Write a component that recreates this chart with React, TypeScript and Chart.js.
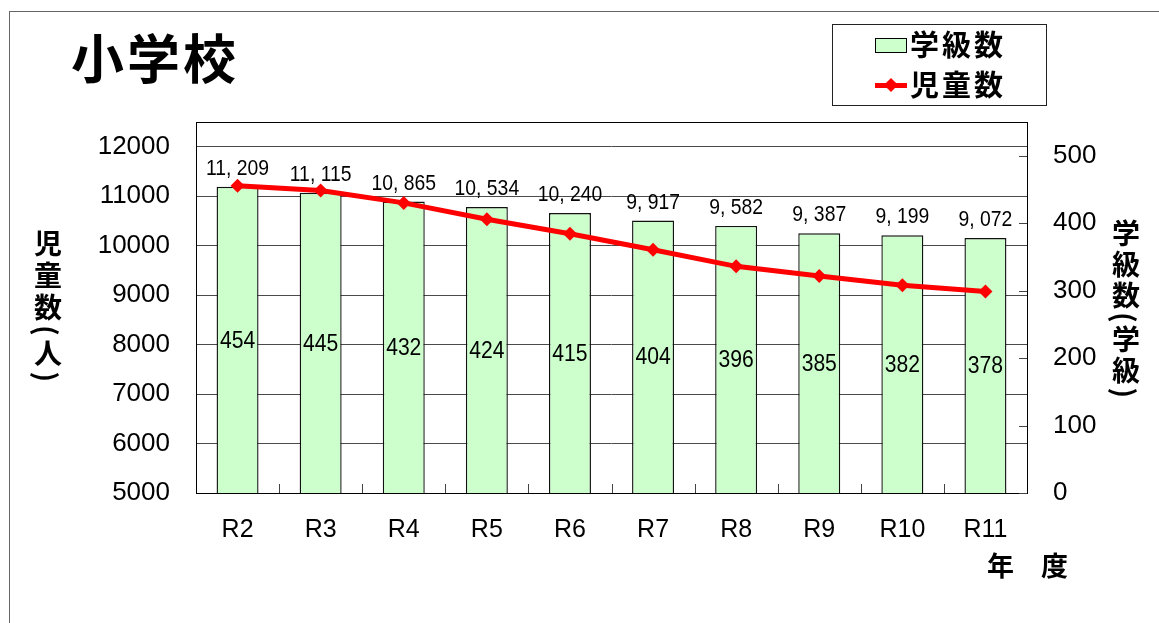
import React, { useEffect, useRef } from "react";
import { Chart, registerables } from "chart.js";

Chart.register(...registerables);

const years = ["R2", "R3", "R4", "R5", "R6", "R7", "R8", "R9", "R10", "R11"];
const classCounts = [454, 445, 432, 424, 415, 404, 396, 385, 382, 378];
const studentCounts = [11209, 11115, 10865, 10534, 10240, 9917, 9582, 9387, 9199, 9072];
const leftTicks = [5000, 6000, 7000, 8000, 9000, 10000, 11000, 12000];
const rightTicks = [0, 100, 200, 300, 400, 500];

const SANS = '"Liberation Sans", Arial, sans-serif';
const JP = '"Noto Sans CJK JP", "Noto Sans", sans-serif';

const fmt = (v: number) => {
  const s = v.toLocaleString("en-US");
  return s.replace(",", ", ");
};

const drawNarrow = (ctx: any, text: string, x: number, y: number, sx: number) => {
  ctx.save();
  ctx.translate(x, y);
  ctx.scale(sx, 1);
  ctx.fillText(text, 0, 0);
  ctx.restore();
};

const decorPlugin = {
  id: "decor",
  afterDatasetsDraw(chart: any) {
    const ctx = chart.ctx;
    const meta = chart.getDatasetMeta(0);
    ctx.save();
    ctx.fillStyle = "#000";
    ctx.textAlign = "center";
    ctx.textBaseline = "middle";
    ctx.font = `24px ${SANS}`;
    meta.data.forEach((el: any, i: number) => {
      const p = el.getProps(["x", "y", "base"], true);
      drawNarrow(ctx, String(classCounts[i]), p.x, (p.y + p.base) / 2 + 1, 0.88);
    });
    ctx.font = `22px ${SANS}`;
    meta.data.forEach((el: any, i: number) => {
      const p = el.getProps(["x", "y"], true);
      drawNarrow(ctx, fmt(studentCounts[i]), p.x, p.y - 18, 0.88);
    });
    ctx.restore();
  },
  afterDraw(chart: any) {
    const ctx = chart.ctx;
    const { left, right, top, bottom } = chart.chartArea;
    ctx.save();
    ctx.strokeStyle = "#000";
    ctx.lineWidth = 1;
    ctx.strokeRect(Math.round(left) + 0.5, Math.round(top) + 0.5, Math.round(right - left), Math.round(bottom - top));
    const yR = chart.scales.yR;
    ctx.strokeStyle = "#444";
    ctx.beginPath();
    rightTicks.forEach((v) => {
      const py = Math.round(yR.getPixelForValue(v)) + 0.5;
      ctx.moveTo(right - 8, py);
      ctx.lineTo(right, py);
    });
    const xs = chart.scales.x;
    for (let i = 1; i < years.length; i++) {
      const px = Math.round((xs.getPixelForValue(i - 1) + xs.getPixelForValue(i)) / 2) + 0.5;
      ctx.moveTo(px, bottom - 9);
      ctx.lineTo(px, bottom);
    }
    ctx.stroke();
    ctx.restore();
  },
};

export default function App() {
  const ref = useRef<HTMLCanvasElement | null>(null);

  useEffect(() => {
    if (!ref.current) return;
    const chart = new Chart(ref.current, {
      type: "bar",
      data: {
        labels: years,
        datasets: [
          {
            type: "bar",
            label: "学級数",
            data: classCounts,
            yAxisID: "yR",
            backgroundColor: "#CCFFCC",
            borderColor: "#111",
            borderWidth: 1.4,
            categoryPercentage: 1,
            barPercentage: 0.505,
            order: 1,
          },
          {
            type: "line",
            label: "児童数",
            data: studentCounts,
            yAxisID: "y",
            borderColor: "#FF0000",
            backgroundColor: "#FF0000",
            borderWidth: 5,
            pointStyle: "rectRot",
            pointRadius: 7,
            pointBorderWidth: 0,
            pointBackgroundColor: "#FF0000",
            tension: 0,
            order: 0,
          },
        ],
      } as any,
      options: {
        responsive: false,
        animation: false,
        devicePixelRatio: 1,
        layout: { padding: { top: 122, left: 0, right: 0, bottom: 0 } },
        plugins: {
          legend: { display: false },
          tooltip: { enabled: false },
          title: { display: false },
        },
        scales: {
          x: {
            type: "category",
            grid: { display: false, drawTicks: false },
            border: { display: false },
            ticks: { padding: 22, color: "#000", font: { family: SANS, size: 25 } },
            afterFit: (s: any) => {
              s.height = 130;
            },
          },
          y: {
            position: "left",
            min: 5000,
            max: 12500,
            afterBuildTicks: (s: any) => {
              s.ticks = leftTicks.map((v) => ({ value: v }));
            },
            grid: { color: "#4a4a4a", drawTicks: false },
            border: { display: false },
            ticks: {
              padding: 26,
              color: "#000",
              font: { family: SANS, size: 26 },
              callback: (v: any) => String(v),
            },
            afterFit: (s: any) => {
              s.width = 196;
            },
          },
          yR: {
            position: "right",
            min: 0,
            max: 550,
            afterBuildTicks: (s: any) => {
              s.ticks = rightTicks.map((v) => ({ value: v }));
            },
            grid: { display: false, drawTicks: false },
            border: { display: false },
            ticks: {
              padding: 26,
              color: "#000",
              font: { family: SANS, size: 26 },
              callback: (v: any) => String(v),
            },
            afterFit: (s: any) => {
              s.width = 132;
            },
          },
        },
      } as any,
      plugins: [decorPlugin],
    });
    return () => chart.destroy();
  }, []);

  const jpBold: React.CSSProperties = {
    position: "absolute",
    fontFamily: JP,
    fontWeight: 700,
    color: "#000",
    lineHeight: 1,
    whiteSpace: "nowrap",
    margin: 0,
  };

  return (
    <div style={{ position: "fixed", left: 0, top: 0, width: 1159, height: 623, overflow: "hidden", background: "#fff" }}>
      <div style={{ position: "absolute", left: 9, top: 11, width: 1300, height: 800, border: "1px solid #666" }} />
      <canvas ref={ref} width={1159} height={623} style={{ position: "absolute", left: 0, top: 0, width: 1159, height: 623 }} />
      <div style={{ ...jpBold, left: 71, top: 30, fontSize: 53, letterSpacing: 3 }}>小学校</div>
      <div style={{ position: "absolute", left: 832, top: 24, width: 213, height: 80, border: "1px solid #222", background: "#fff" }} />
      <div style={{ position: "absolute", left: 875, top: 38, width: 30, height: 13, border: "1px solid #000", background: "#CCFFCC" }} />
      <div style={{ ...jpBold, left: 910, top: 29, fontSize: 29, letterSpacing: 3 }}>学級数</div>
      <div style={{ position: "absolute", left: 875, top: 83, width: 32, height: 5, background: "#FF0000" }} />
      <div style={{ position: "absolute", left: 886, top: 80, width: 10, height: 10, background: "#FF0000", transform: "rotate(45deg)" }} />
      <div style={{ ...jpBold, left: 910, top: 69, fontSize: 29, letterSpacing: 3 }}>児童数</div>
      <div style={{ ...jpBold, left: 34, top: 229, fontSize: 28, writingMode: "vertical-rl", letterSpacing: 4 }}>児童数(人)</div>
      <div style={{ ...jpBold, left: 1112, top: 219, fontSize: 28, writingMode: "vertical-rl", letterSpacing: 3 }}>学級数(学級)</div>
      <div style={{ ...jpBold, left: 987, top: 551, fontSize: 27 }}>年　度</div>
    </div>
  );
}
